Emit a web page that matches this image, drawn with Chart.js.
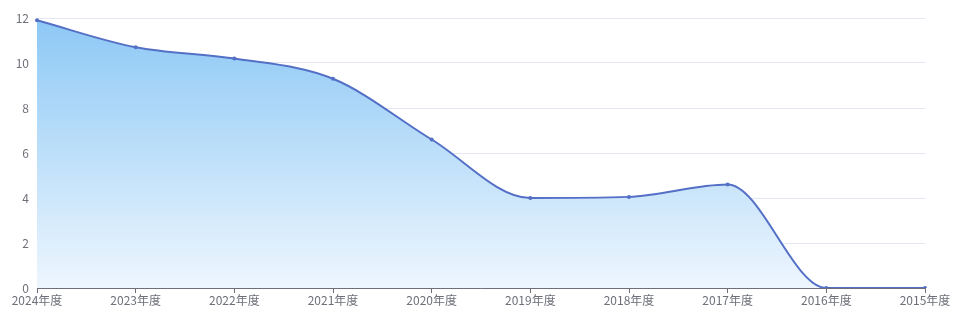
<!DOCTYPE html>
<html>
<head>
<meta charset="utf-8">
<script src="https://cdn.jsdelivr.net/npm/chart.js@4/dist/chart.umd.min.js"></script>
<style>
html,body{margin:0;padding:0;background:#fff;}
#c{display:block;}
</style>
</head>
<body>
<canvas id="c" width="973" height="334"></canvas>
<script>
const categories = ["2024年度","2023年度","2022年度","2021年度","2020年度","2019年度","2018年度","2017年度","2016年度","2015年度"];
const values = [11.9, 10.7, 10.2, 9.3, 6.6, 4.0, 4.05, 4.6, 0, 0];
const yMin = 0, yMax = 12, yStep = 2;

const FONT = "'Noto Sans CJK SC', 'Noto Sans', sans-serif";
const TXT = '#6e7079';

new Chart(document.getElementById('c'), {
  type: 'line',
  data: {
    labels: categories,
    datasets: [{
      data: values,
      borderColor: '#5470c6',
      borderWidth: 2,
      pointRadius: 2,
      pointBackgroundColor: '#5470c6',
      pointBorderColor: '#5470c6',
      pointBorderWidth: 0,
      cubicInterpolationMode: 'monotone',
      fill: 'origin',
      backgroundColor: (ctx) => {
        const ca = ctx.chart.chartArea;
        if (!ca) return 'rgba(140,200,245,1)';
        const g = ctx.chart.ctx.createLinearGradient(0, ca.top, 0, ca.bottom);
        g.addColorStop(0, 'rgb(140,200,245)');
        g.addColorStop(1, 'rgb(238,246,254)');
        return g;
      }
    }]
  },
  options: {
    responsive: false,
    animation: false,
    devicePixelRatio: 1,
    layout: { padding: { left: 0, right: 48, top: 18, bottom: 0 } },
    plugins: { legend: { display: false }, tooltip: { enabled: false } },
    scales: {
      x: {
        offset: false,
        z: 1,
        grid: { drawOnChartArea: false, drawTicks: true, tickLength: 5, tickColor: TXT },
        border: { display: true, color: TXT, width: 1 },
        ticks: { color: TXT, font: { family: FONT, size: 12 }, padding: 0, maxRotation: 0, autoSkip: false },
        afterFit: (s) => { s.height = 46; }
      },
      y: {
        min: yMin, max: yMax,
        z: 1,
        grid: { color: 'rgba(150,170,210,0.28)', drawTicks: false },
        border: { display: false },
        ticks: { stepSize: yStep, color: TXT, font: { family: FONT, size: 12 }, padding: 8 },
        afterFit: (s) => { s.width = 37; }
      }
    }
  }
});
</script>
</body>
</html>
